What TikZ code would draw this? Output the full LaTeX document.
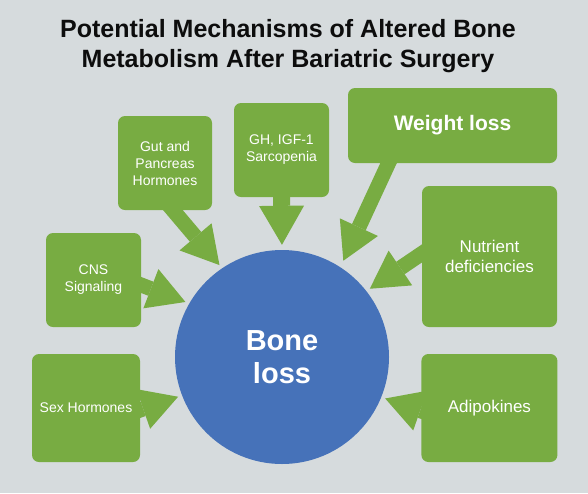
\documentclass[tikz,border=0pt]{standalone}
\usepackage{fontspec}
\setmainfont{Liberation Sans}
\usetikzlibrary{positioning}
\usetikzlibrary{arrows.meta, backgrounds}

\definecolor{boxgreen}{RGB}{120,172,66}
\definecolor{boneblue}{RGB}{70,114,185}
\definecolor{bggray}{RGB}{214,219,221}

\begin{document}
\begin{tikzpicture}[
  x=1pt, y=-1pt,
  cause/.style={rectangle, rounded corners=7pt, fill=boxgreen, text=white, align=center, inner sep=0pt, font=\fontsize{14}{17}\selectfont},
  push/.style={draw=boxgreen, line width=15pt, shorten <=-12pt, shorten >=4pt, -{Triangle[length=37pt, width=42pt, line width'=0pt]}}
]
  \begin{scope}[on background layer]
    \fill[bggray] (0,0) rectangle (588,493);
  \end{scope}
  \useasboundingbox (0,0) rectangle (588,493);

  % Titel
  \node[font=\bfseries\fontsize{25}{30}\selectfont, align=center, inner sep=0pt, text=black!95] (title) at (288,46.5) {Potential Mechanisms of Altered Bone\\Metabolism After Bariatric Surgery};

  % Zentrum
  \node[circle, fill=boneblue, minimum size=214pt, inner sep=0pt, text=white, align=center, font=\bfseries\fontsize{29}{33}\selectfont] (bone) at (282,357) {Bone\\loss};

  % Ursachen
  \node[cause, minimum width=94pt, minimum height=94pt] (gut) at (165,163) {Gut and\\Pancreas\\Hormones};
  \node[cause, minimum width=95pt, minimum height=94pt] (gh) at (281.5,150) {GH, IGF-1\\Sarcopenia};
  \node[cause, minimum width=95pt, minimum height=94pt] (cns) at (93.5,280) {CNS\\Signaling};
  \node[cause, minimum width=209pt, minimum height=75pt, font=\bfseries\fontsize{21}{25}\selectfont] (weight) at (452.5,125.5) {Weight loss};
  \node[cause, minimum width=135pt, minimum height=141pt, font=\fontsize{17}{20}\selectfont] (nutr) at (489.5,256.5) {Nutrient\\deficiencies};
  \node[cause, minimum width=108pt, minimum height=108pt] (sex) at (86,408) {Sex Hormones};
  \node[cause, minimum width=136pt, minimum height=108pt, font=\fontsize{17}{20}\selectfont, right=281pt of sex] (adipo) {Adipokines};

  % Pfeile
  \begin{scope}[on background layer]
    \draw[push] ([xshift=8pt]gut.south) -- (bone.124);
    \draw[push, line width=17pt, shorten >=5pt, -{Triangle[length=39pt, width=45pt, line width'=0pt]}] (gh.south) -- (bone.north);
    \draw[push] ([yshift=-5pt]cns.east) -- (bone.150);
    \draw[push, shorten >=7pt] ([xshift=-64pt]weight.south) -- (bone.57);
    \draw[push] ([yshift=3pt]nutr.west) -- (bone.38);
    \draw[push] ([yshift=-2pt]sex.east) -- (bone.201);
    \draw[push] ([yshift=-3pt]adipo.west) -- (bone.338);
  \end{scope}
\end{tikzpicture}
\end{document}
